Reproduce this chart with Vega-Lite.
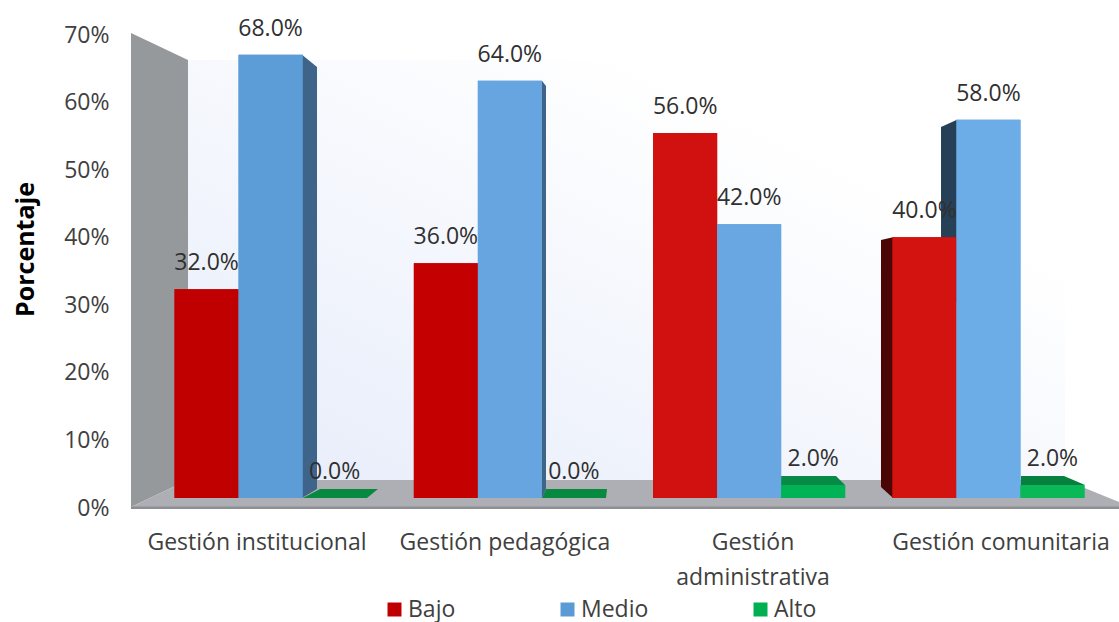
{
  "$schema": "https://vega.github.io/schema/vega-lite/v6.json",
  "autosize": {"type": "none"},
  "padding": {"left": 131, "top": 34, "right": 0, "bottom": 115},
  "width": 988,
  "height": 473,
  "background": "white",
  "config": {"view": {"stroke": null}, "font": "Open Sans", "text": {"font": "Open Sans"}},
  "datasets": {
    "barras": [
      {"categoria": "Gestión institucional", "serie": "Bajo", "valor": 0.32},
      {"categoria": "Gestión institucional", "serie": "Medio", "valor": 0.68},
      {"categoria": "Gestión institucional", "serie": "Alto", "valor": 0.0},
      {"categoria": "Gestión pedagógica", "serie": "Bajo", "valor": 0.36},
      {"categoria": "Gestión pedagógica", "serie": "Medio", "valor": 0.64},
      {"categoria": "Gestión pedagógica", "serie": "Alto", "valor": 0.0},
      {"categoria": "Gestión administrativa", "serie": "Bajo", "valor": 0.56},
      {"categoria": "Gestión administrativa", "serie": "Medio", "valor": 0.42},
      {"categoria": "Gestión administrativa", "serie": "Alto", "valor": 0.02},
      {"categoria": "Gestión comunitaria", "serie": "Bajo", "valor": 0.40},
      {"categoria": "Gestión comunitaria", "serie": "Medio", "valor": 0.58},
      {"categoria": "Gestión comunitaria", "serie": "Alto", "valor": 0.02}
    ],
    "pared_fondo": [
      {"pos": 0.2382, "alto": 0.6718, "bajo": 0.0276},
      {"pos": 3.903, "alto": 0.6718, "bajo": 0.0276}
    ],
    "caras": [
      {"cara": "pared", "pos": 0, "alto": 0.7132, "bajo": -0.0138},
      {"cara": "pared", "pos": 0.2382, "alto": 0.6718, "bajo": 0.0276},
      {"cara": "piso", "pos": 0, "alto": -0.0138, "bajo": -0.0138},
      {"cara": "piso", "pos": 0.2382, "alto": 0.0276, "bajo": -0.0138},
      {"cara": "piso", "pos": 3.903, "alto": 0.0276, "bajo": -0.0138},
      {"cara": "piso", "pos": 4.1287, "alto": -0.0061, "bajo": -0.0138},
      {"cara": "borde", "pos": 0, "alto": -0.0131, "bajo": -0.0169},
      {"cara": "borde", "pos": 4.1287, "alto": -0.0131, "bajo": -0.0169},
      {"cara": "medio1", "pos": 0.7147, "alto": 0.68, "bajo": 0},
      {"cara": "medio1", "pos": 0.7773, "alto": 0.661, "bajo": 0.0138},
      {"cara": "medio2", "pos": 1.7175, "alto": 0.64, "bajo": 0},
      {"cara": "medio2", "pos": 1.7342, "alto": 0.6319, "bajo": 0.0138},
      {"cara": "medio4", "pos": 3.3849, "alto": 0.569, "bajo": 0.3},
      {"cara": "medio4", "pos": 3.4517, "alto": 0.58, "bajo": 0.3},
      {"cara": "bajo4", "pos": 3.1341, "alto": 0.3957, "bajo": 0.0169},
      {"cara": "bajo4", "pos": 3.1843, "alto": 0.4, "bajo": 0},
      {"cara": "alto1", "pos": 0.7188, "alto": 0, "bajo": 0},
      {"cara": "alto1", "pos": 0.7898, "alto": 0.0138, "bajo": 0},
      {"cara": "alto1", "pos": 0.9862, "alto": 0.0138, "bajo": 0},
      {"cara": "alto1", "pos": 1.0322, "alto": 0.0138, "bajo": 0.0138},
      {"cara": "alto2", "pos": 1.7175, "alto": 0, "bajo": 0},
      {"cara": "alto2", "pos": 1.7342, "alto": 0.0138, "bajo": 0},
      {"cara": "alto2", "pos": 1.985, "alto": 0.0138, "bajo": 0},
      {"cara": "alto2", "pos": 1.9892, "alto": 0.0138, "bajo": 0.0138},
      {"cara": "alto3", "pos": 2.7162, "alto": 0.0337, "bajo": 0.02},
      {"cara": "alto3", "pos": 2.9461, "alto": 0.0337, "bajo": 0.02},
      {"cara": "alto3", "pos": 2.9837, "alto": 0.02, "bajo": 0.02},
      {"cara": "alto4", "pos": 3.7192, "alto": 0.0337, "bajo": 0.02},
      {"cara": "alto4", "pos": 3.8989, "alto": 0.0337, "bajo": 0.02},
      {"cara": "alto4", "pos": 3.9866, "alto": 0.02, "bajo": 0.02}
    ]
  },
  "resolve": {
    "scale": {"x": "independent", "y": "independent", "color": "independent", "xOffset": "independent"},
    "axis": {"x": "independent", "y": "independent"}
  },
  "layer": [
    {
      "description": "Ejes: porcentaje a la izquierda y gestiones abajo",
      "data": {"name": "barras"},
      "mark": {"type": "bar", "opacity": 0},
      "encoding": {
        "x": {
          "field": "categoria", "type": "nominal", "sort": null,
          "scale": {"domain": ["Gestión institucional", "Gestión pedagógica", "Gestión administrativa", "Gestión comunitaria"], "range": [2, 994], "paddingInner": 0, "paddingOuter": 0},
          "axis": {
            "orient": "bottom", "title": null, "domain": false, "ticks": false, "labelAngle": 0,
            "labelOverlap": false, "labelLimit": 400, "labelPadding": 24, "labelBaseline": "top",
            "labelFont": "Open Sans", "labelFontSize": 23, "labelColor": "#404040", "labelLineHeight": 35,
            "labelExpr": "datum.label == 'Gestión administrativa' ? ['Gestión', 'administrativa'] : datum.label"
          }
        },
        "y": {
          "field": "valor", "type": "quantitative", "stack": null,
          "scale": {"domain": [0, 0.7], "nice": false},
          "axis": {
            "orient": "left", "format": ".0%", "values": [0, 0.1, 0.2, 0.3, 0.4, 0.5, 0.6, 0.7],
            "domain": false, "ticks": false, "grid": false, "labelPadding": 22, "labelOffset": 1,
            "labelFont": "Open Sans", "labelFontSize": 23, "labelColor": "#404040",
            "title": "Porcentaje", "titleFont": "Open Sans", "titleFontSize": 25, "titleFontWeight": "bold",
            "titleColor": "#000000", "titleX": -106, "titleY": 215, "titleAngle": 270, "titleBaseline": "middle", "titleAlign": "center"
          }
        }
      }
    },
    {
      "description": "Pared del fondo con degradado diagonal",
      "data": {"name": "pared_fondo"},
      "mark": {
        "type": "area",
        "color": {"gradient": "linear", "x1": 0, "y1": 1, "x2": 1, "y2": 0,
          "stops": [{"offset": 0, "color": "#E6ECFA"}, {"offset": 0.75, "color": "#FFFFFF"}, {"offset": 1, "color": "#FFFFFF"}]}
      },
      "encoding": {
        "x": {"field": "pos", "type": "quantitative", "scale": {"domain": [0, 4.1287], "nice": false, "zero": false}, "axis": null},
        "y": {"field": "alto", "type": "quantitative", "scale": {"domain": [-0.0138, 0.7117], "nice": false, "zero": false}, "axis": null},
        "y2": {"field": "bajo"}
      }
    },
    {
      "description": "Pared lateral, piso y caras laterales de las barras en perspectiva",
      "data": {"name": "caras"},
      "mark": {"type": "area"},
      "encoding": {
        "x": {"field": "pos", "type": "quantitative", "scale": {"domain": [0, 4.1287], "nice": false, "zero": false}, "axis": null},
        "y": {"field": "alto", "type": "quantitative", "scale": {"domain": [-0.0138, 0.7117], "nice": false, "zero": false}, "axis": null},
        "y2": {"field": "bajo"},
        "color": {
          "field": "cara", "type": "nominal", "legend": null,
          "scale": {
            "domain": ["pared", "piso", "borde", "medio1", "medio2", "medio4", "bajo4", "alto1", "alto2", "alto3", "alto4"],
            "range": ["#96999C", "#ADAFB4", "#8D8F93", "#3E6589", "#3E6589", "#264057", "#4A0505", "#078A3F", "#078A3F", "#078A45", "#06803F"]
          }
        }
      }
    },
    {
      "description": "Barras base que aportan la leyenda por nivel",
      "data": {"name": "barras"},
      "mark": {"type": "bar"},
      "encoding": {
        "x": {"field": "categoria", "type": "nominal", "sort": null, "axis": null,
          "scale": {"domain": ["Gestión institucional", "Gestión pedagógica", "Gestión administrativa", "Gestión comunitaria"], "range": [19.9, 977.1], "paddingInner": 0, "paddingOuter": 0}},
        "xOffset": {"field": "serie", "type": "nominal", "sort": null, "scale": {"domain": ["Bajo", "Medio", "Alto"], "range": [23.65, 215.65]}},
        "y": {"field": "valor", "type": "quantitative", "stack": null, "axis": null, "scale": {"domain": [-0.0138, 0.7117], "nice": false, "zero": false}},
        "y2": {"datum": 0},
        "color": {
          "field": "serie", "type": "nominal",
          "scale": {"domain": ["Bajo", "Medio", "Alto"], "range": ["#C00000", "#5B9BD5", "#00B050"]},
          "legend": {
            "orient": "none", "legendX": 252, "legendY": 564, "direction": "horizontal", "title": null,
            "symbolType": "square", "symbolSize": 196, "symbolStrokeWidth": 0, "labelOffset": 2,
            "columnPadding": 100, "gridAlign": "none", "labelFont": "Open Sans", "labelFontSize": 23, "labelColor": "#404040"
          }
        }
      }
    },
    {
      "description": "Tono de cada barra, más claro hacia la derecha por la iluminación",
      "data": {"name": "barras"},
      "transform": [{"calculate": "datum.serie + '|' + datum.categoria", "as": "tono"}],
      "mark": {"type": "bar"},
      "encoding": {
        "x": {"field": "categoria", "type": "nominal", "sort": null, "axis": null,
          "scale": {"domain": ["Gestión institucional", "Gestión pedagógica", "Gestión administrativa", "Gestión comunitaria"], "range": [19.9, 977.1], "paddingInner": 0, "paddingOuter": 0}},
        "xOffset": {"field": "serie", "type": "nominal", "sort": null, "scale": {"domain": ["Bajo", "Medio", "Alto"], "range": [23.65, 215.65]}},
        "y": {"field": "valor", "type": "quantitative", "stack": null, "axis": null, "scale": {"domain": [-0.0138, 0.7117], "nice": false, "zero": false}},
        "y2": {"datum": 0},
        "color": {
          "field": "tono", "type": "nominal", "legend": null,
          "scale": {
            "domain": [
              "Bajo|Gestión institucional", "Medio|Gestión institucional", "Alto|Gestión institucional",
              "Bajo|Gestión pedagógica", "Medio|Gestión pedagógica", "Alto|Gestión pedagógica",
              "Bajo|Gestión administrativa", "Medio|Gestión administrativa", "Alto|Gestión administrativa",
              "Bajo|Gestión comunitaria", "Medio|Gestión comunitaria", "Alto|Gestión comunitaria"
            ],
            "range": [
              "#C00000", "#5C9CD7", "#00A050",
              "#C40000", "#66A5DF", "#00A050",
              "#D0110F", "#68A7E1", "#00B455",
              "#D3130F", "#6DADE7", "#0AB858"
            ]
          }
        }
      }
    },
    {
      "description": "Etiquetas de valor sobre cada barra",
      "data": {"name": "barras"},
      "mark": {"type": "text", "dy": -26, "baseline": "middle", "align": "center", "font": "Open Sans", "fontSize": 23, "color": "#303030"},
      "encoding": {
        "x": {"field": "categoria", "type": "nominal", "sort": null, "axis": null,
          "scale": {"domain": ["Gestión institucional", "Gestión pedagógica", "Gestión administrativa", "Gestión comunitaria"], "range": [19.9, 977.1], "paddingInner": 0, "paddingOuter": 0}},
        "xOffset": {"field": "serie", "type": "nominal", "sort": null, "scale": {"domain": ["Bajo", "Medio", "Alto"], "range": [23.65, 215.65]}},
        "y": {"field": "valor", "type": "quantitative", "stack": null, "axis": null, "scale": {"domain": [-0.0138, 0.7117], "nice": false, "zero": false}},
        "text": {"field": "valor", "type": "quantitative", "format": ".1%"}
      }
    }
  ]
}
